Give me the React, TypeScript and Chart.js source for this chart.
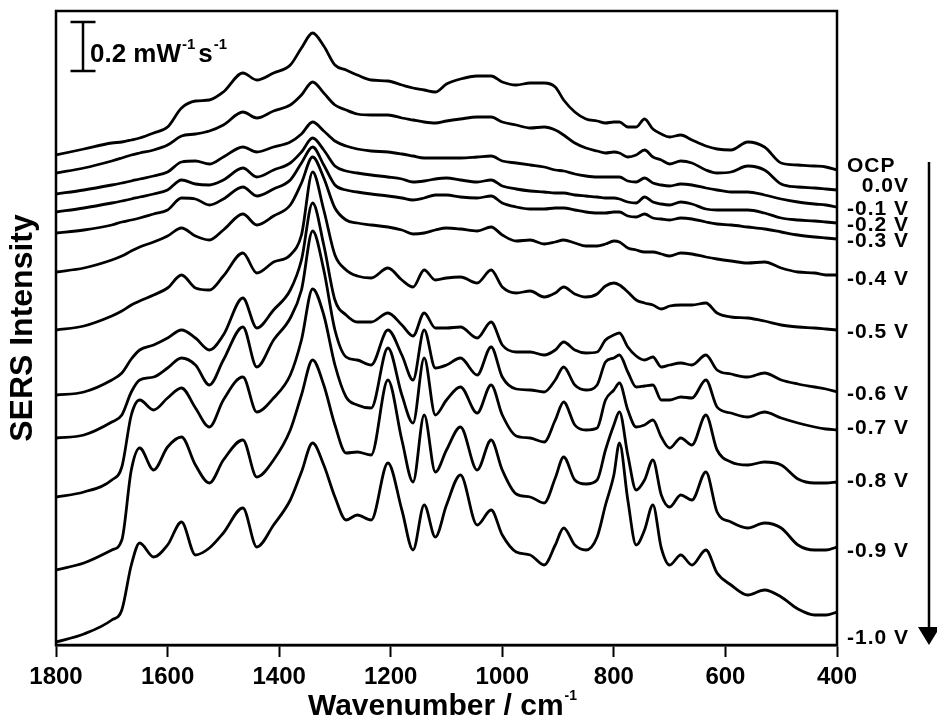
import { useEffect, useRef } from 'react';
import { Chart, registerables } from 'chart.js';

Chart.register(...registerables);

// Raman shift grid (cm-1) shared by all spectra
const WAVENUMBERS = [
  1800, 1750, 1700, 1682, 1665, 1650, 1625, 1600, 1575, 1550, 1525,
  1500, 1465, 1440, 1410, 1380, 1360, 1340, 1320, 1300, 1280,
  1260, 1235, 1205, 1180, 1160, 1140, 1120, 1100, 1075, 1045,
  1020, 1000, 975, 950, 925, 905, 890, 870, 850, 830,
  815, 800, 790, 775, 760, 745, 730, 715, 700, 680,
  660, 635, 615, 590, 560, 530, 500, 470, 440, 420,
  400,
];

// Offset SERS intensities (arbitrary units, stacked)
const OCP = [490,496,502,503,505,507,512,518,537,544,545, 553,572,565,572,580,597,612,599,580,575, 570,565,564,560,557,555,553,561,566,569, 569,563,560,562,562,558,545,533,526,524, 522,523,523,518,518,526,516,511,508,510, 505,499,496,495,503,498,482,480,479,478, 475];
const V_0_0 = [472,477,484,487,490,492,495,500,509,511,514, 520,533,527,534,540,550,563,552,540,535, 531,530,530,527,525,523,522,524,526,528, 528,523,520,517,518,515,510,502,497,494, 492,493,492,488,490,495,488,485,481,484, 482,475,472,473,479,475,461,458,457,456, 455];
const V_M0_1 = [451,455,460,462,464,466,469,473,483,484,481, 488,498,493,498,503,511,523,514,504,499, 496,494,493,491,489,487,487,487,487,488, 489,484,482,480,478,475,474,471,469,468, 468,468,468,464,463,467,462,460,459,461, 460,457,455,453,453,450,446,443,441,440, 438];
const V_M0_2 = [433,437,442,444,446,448,451,455,465,461,460, 465,477,468,475,482,493,507,495,479,474, 472,470,468,466,463,464,466,467,465,463, 465,459,456,454,453,452,452,450,449,448, 447,447,446,443,442,448,443,441,440,443, 441,436,435,435,435,432,427,425,424,423, 422];
const V_M0_3 = [412,415,420,423,425,427,431,435,447,446,440, 446,458,449,456,465,482,498,480,460,455, 453,451,449,447,445,447,450,450,448,447, 449,442,438,436,436,437,437,435,433,432, 432,433,433,429,428,431,427,426,425,427, 426,423,421,420,418,416,413,410,408,407, 406];
const V_M0_4 = [373,377,385,389,394,398,403,409,417,409,405, 415,431,420,429,440,462,488,467,437,425, 422,420,418,415,411,412,415,417,416,414, 418,410,404,405,401,403,405,402,399,399, 401,404,403,397,395,393,393,391,389,392, 391,388,386,384,382,383,377,373,372,370, 370];
const V_M0_5 = [315,319,329,334,340,344,350,357,370,357,355, 369,392,372,383,390,410,473,435,390,375, 369,367,377,365,358,375,365,367,368,362, 375,358,352,354,348,352,358,351,348,351, 359,362,360,353,345,342,340,336,339,340, 340,342,332,328,327,324,320,318,317,316, 315];
const V_M0_6 = [250,253,265,272,286,295,300,307,315,307,295, 310,347,317,335,355,385,442,400,345,330, 323,323,332,320,309,332,317,317,318,307, 323,300,293,293,290,295,303,295,292,293, 305,310,312,298,289,285,288,278,280,282, 280,290,275,271,268,272,265,261,258,256, 253];
const V_M0_7 = [207,210,223,230,253,265,268,277,287,280,260, 285,318,278,305,327,355,414,375,315,288, 285,280,315,290,265,315,277,280,287,270, 298,268,256,255,253,265,278,260,255,260, 283,287,290,273,258,259,260,245,245,248, 247,265,238,232,228,233,227,222,218,216, 215];
const V_M0_8 = [148,153,165,178,230,245,235,247,257,237,218, 245,268,233,247,270,305,356,330,280,248, 240,237,297,250,222,287,230,245,258,232, 260,230,209,207,203,225,243,220,215,217, 245,255,262,235,218,220,225,208,197,207, 200,230,195,183,180,183,180,166,162,162, 163];
const V_M0_9 = [75,82,95,105,175,197,175,198,208,180,162, 185,205,168,185,215,250,285,260,220,192, 193,190,265,205,163,230,173,195,218,175, 205,175,151,148,142,167,188,165,161,165, 195,220,233,190,155,165,185,150,138,150, 145,173,133,123,117,122,117,100,95,95, 98];
const V_M1_0 = [3,11,25,35,80,102,88,100,123,90,97, 112,137,98,120,145,173,202,180,148,125, 130,125,182,135,95,140,108,140,170,120, 135,110,93,90,80,100,117,100,95,108, 140,170,202,145,100,115,140,97,80,90, 80,95,72,60,50,55,48,36,30,30, 33];

const SERIES_LABELS = ['OCP', '0.0V', '-0.1 V', '-0.2 V', '-0.3 V', '-0.4 V', '-0.5 V', '-0.6 V', '-0.7 V', '-0.8 V', '-0.9 V', '-1.0 V'];
// intensity level at which each potential label sits on the right
const LABEL_LEVELS = [479, 459, 436, 420, 404, 366, 313, 251, 217, 164, 94, 7];
const X_TICKS = [1800, 1600, 1400, 1200, 1000, 800, 600, 400];
const SCALE_BAR_TEXT = '0.2 mW';
const SCALE_BAR_UNITS = 49; // intensity span equal to 0.2 mW-1 s-1

const SERIES_VALUES = [OCP, V_0_0, V_M0_1, V_M0_2, V_M0_3, V_M0_4, V_M0_5, V_M0_6, V_M0_7, V_M0_8, V_M0_9, V_M1_0];

const FONT = '"Liberation Sans", Arial, Helvetica, sans-serif';

function drawRich(ctx: CanvasRenderingContext2D, parts: [string, number, number, number][], x: number, baseline: number) {
  let cx = x;
  for (const [txt, size, dy, gap] of parts) {
    ctx.font = `bold ${size}px ${FONT}`;
    ctx.fillText(txt, cx, baseline + dy);
    cx += ctx.measureText(txt).width + gap;
  }
}

const decorPlugin = {
  id: 'decor',
  afterDatasetsDraw(chart: any) {
    const { ctx, chartArea: a, scales } = chart;
    const y = scales.y;
    ctx.save();
    ctx.strokeStyle = '#000';
    ctx.fillStyle = '#000';
    ctx.lineWidth = 2.5;
    ctx.strokeRect(a.left, a.top, a.right - a.left, a.bottom - a.top);

    // scale bar
    const barX = a.left + 27;
    const barTop = a.top + 11;
    const barLen = y.getPixelForValue(0) - y.getPixelForValue(SCALE_BAR_UNITS);
    ctx.beginPath();
    ctx.moveTo(barX, barTop);
    ctx.lineTo(barX, barTop + barLen);
    ctx.moveTo(barX - 12.5, barTop);
    ctx.lineTo(barX + 12.5, barTop);
    ctx.moveTo(barX - 12.5, barTop + barLen);
    ctx.lineTo(barX + 12.5, barTop + barLen);
    ctx.stroke();
    ctx.textAlign = 'left';
    ctx.textBaseline = 'alphabetic';
    drawRich(ctx, [[SCALE_BAR_TEXT, 26, 0, 1], ['-1', 15, -13, 3], ['s', 26, 0, 1], ['-1', 15, -13, 0]], barX + 7, barTop + 40);

    // right labels
    ctx.font = `bold 21px ${FONT}`;
    (ctx as any).letterSpacing = '1px';
    ctx.textBaseline = 'middle';
    SERIES_LABELS.forEach((t, i) => {
      const py = y.getPixelForValue(LABEL_LEVELS[i]);
      if (i === 0) {
        ctx.textAlign = 'left';
        ctx.fillText(t, a.right + 10, py);
      } else {
        ctx.textAlign = 'right';
        ctx.fillText(t, a.right + 72, py);
      }
    });
    (ctx as any).letterSpacing = '0px';

    // arrow
    const ax = a.right + 92;
    const aTop = y.getPixelForValue(LABEL_LEVELS[0]) - 4;
    ctx.lineWidth = 2.5;
    ctx.beginPath();
    ctx.moveTo(ax, aTop);
    ctx.lineTo(ax, a.bottom - 16);
    ctx.stroke();
    ctx.beginPath();
    ctx.moveTo(ax - 11, a.bottom - 18);
    ctx.lineTo(ax + 11, a.bottom - 18);
    ctx.lineTo(ax, a.bottom);
    ctx.closePath();
    ctx.fill();

    // x title
    ctx.textAlign = 'left';
    ctx.textBaseline = 'alphabetic';
    ctx.font = `bold 30px ${FONT}`;
    const main = 'Wavenumber / cm';
    const w1 = ctx.measureText(main).width;
    ctx.font = `bold 14px ${FONT}`;
    const w2 = ctx.measureText('-1').width;
    const cx = (a.left + a.right) / 2 - 4;
    drawRich(ctx, [[main, 30, 0, 1], ['-1', 14, -15, 0]], cx - (w1 + w2 + 1) / 2, a.bottom + 70);
    ctx.restore();
  },
};

export default function App() {
  const ref = useRef<HTMLCanvasElement>(null);
  useEffect(() => {
    const datasets = SERIES_VALUES.map((vals, i) => ({
      label: SERIES_LABELS[i],
      data: WAVENUMBERS.map((w, j) => ({ x: w, y: vals[j] })),
      borderColor: '#000',
      backgroundColor: '#000',
      borderWidth: 2.8,
      pointRadius: 0,
      cubicInterpolationMode: 'monotone' as const,
      fill: false,
    }));
    const chart = new Chart(ref.current as HTMLCanvasElement, {
      type: 'line',
      data: { datasets },
      options: {
        animation: false,
        responsive: false,
        maintainAspectRatio: false,
        layout: { padding: { top: 11, right: 100, left: 0, bottom: 0 } },
        plugins: { legend: { display: false }, tooltip: { enabled: false } },
        scales: {
          x: {
            type: 'linear',
            reverse: true,
            min: 400,
            max: 1800,
            afterFit: (s: any) => { s.height = 80; },
            afterBuildTicks: (s: any) => { s.ticks = X_TICKS.map((v) => ({ value: v })); },
            grid: { display: true, drawOnChartArea: false, drawTicks: true, tickLength: 12, tickWidth: 2, tickColor: '#000' },
            border: { display: true, color: '#000', width: 2.5 },
            ticks: {
              color: '#000',
              padding: 6,
              maxRotation: 0,
              autoSkip: false,
              font: { family: FONT, size: 24, weight: 'bold' },
              callback: (v: any) => String(v),
            },
            title: { display: false },
          },
          y: {
            min: 0,
            max: 634,
            afterFit: (s: any) => { s.width = 56; },
            grid: { display: false },
            border: { display: false },
            ticks: { display: false },
            title: {
              display: true,
              text: 'SERS Intensity',
              color: '#000',
              font: { family: FONT, size: 32, weight: 'bold' },
              padding: { top: 4, bottom: 0 },
            },
          },
        },
      },
      plugins: [decorPlugin],
    });
    return () => chart.destroy();
  }, []);
  return (
    <div style={{ position: 'fixed', left: 0, top: 0, width: 937, height: 725, background: '#fff' }}>
      <canvas ref={ref} width={937} height={725} style={{ display: 'block', width: '937px', height: '725px' }} />
    </div>
  );
}
